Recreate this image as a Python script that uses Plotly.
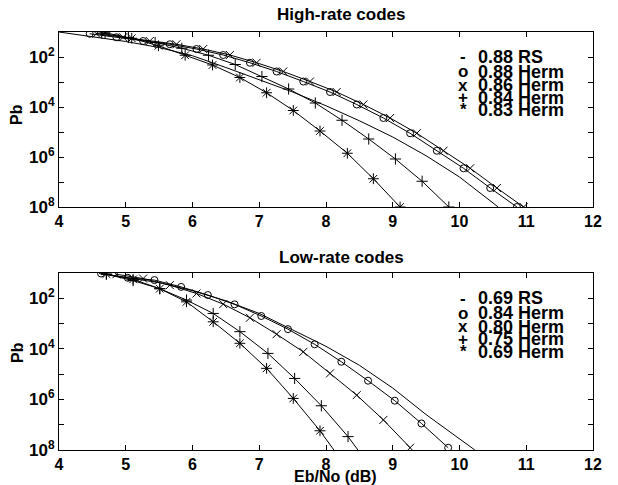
import numpy as np
import plotly.graph_objects as go

# ---------------- data (Pb given as log10 exponents) ----------------
# High-rate codes
hi_rs_x = [4.0, 4.5, 5.0, 5.5, 6.0, 6.5, 7.0, 7.5, 8.0, 8.5, 9.0, 9.5, 10.0, 10.58]
hi_rs_log = [-1.0, -1.2, -1.38, -1.62, -1.95, -2.42, -2.9, -3.4, -3.95, -4.55, -5.2, -5.95, -6.8, -8.0]

hi_o_x = [4.46, 4.86, 5.26, 5.66, 6.06, 6.46, 6.86, 7.26, 7.66, 8.06, 8.46, 8.86, 9.26, 9.66, 10.06, 10.46, 10.86]
hi_o_log = [-1.07, -1.21, -1.36, -1.49, -1.68, -1.92, -2.23, -2.58, -2.98, -3.40, -3.90, -4.44, -5.05, -5.75, -6.45, -7.24, -8.0]

hi_x_x = [4.56, 4.96, 5.36, 5.76, 6.16, 6.56, 6.96, 7.36, 7.76, 8.16, 8.56, 8.96, 9.36, 9.76, 10.16, 10.56, 10.96]
hi_x_log = [-1.07, -1.21, -1.36, -1.49, -1.68, -1.92, -2.23, -2.58, -2.98, -3.40, -3.90, -4.44, -5.05, -5.75, -6.45, -7.24, -8.0]

hi_p_x = [4.64, 5.04, 5.44, 5.84, 6.24, 6.64, 7.04, 7.44, 7.84, 8.24, 8.64, 9.04, 9.44, 9.84]
hi_p_log = [-1.05, -1.22, -1.42, -1.65, -1.93, -2.30, -2.78, -3.28, -3.84, -4.53, -5.28, -6.08, -6.97, -8.0]

hi_s_x = [4.69, 5.09, 5.49, 5.89, 6.30, 6.71, 7.11, 7.51, 7.91, 8.32, 8.71, 9.11]
hi_s_log = [-1.03, -1.25, -1.55, -1.93, -2.32, -2.82, -3.43, -4.14, -4.96, -5.85, -6.87, -8.0]

# Low-rate codes
lo_rs_x = [4.6, 5.0, 5.5, 6.0, 6.5, 7.0, 7.5, 8.0, 8.5, 9.0, 9.5, 10.23]
lo_rs_log = [-1.02, -1.17, -1.38, -1.7, -2.1, -2.6, -3.25, -3.9, -4.65, -5.55, -6.6, -8.0]

lo_o_x = [4.63, 5.03, 5.43, 5.83, 6.23, 6.63, 7.03, 7.43, 7.83, 8.23, 8.63, 9.03, 9.43, 9.83]
lo_o_log = [-1.02, -1.19, -1.28, -1.55, -1.87, -2.24, -2.70, -3.22, -3.82, -4.51, -5.26, -6.05, -6.95, -7.91]

lo_x_x = [4.86, 5.26, 5.66, 6.06, 6.46, 6.86, 7.26, 7.66, 8.06, 8.46, 8.86, 9.26]
lo_x_log = [-1.05, -1.22, -1.48, -1.81, -2.23, -2.77, -3.42, -4.12, -4.97, -5.83, -6.81, -7.91]

lo_p_x = [4.71, 5.11, 5.51, 5.91, 6.31, 6.71, 7.13, 7.53, 7.93, 8.33, 8.73]
lo_p_log = [-1.05, -1.30, -1.62, -2.07, -2.60, -3.32, -4.18, -5.17, -6.25, -7.47, -8.9]

lo_s_x = [4.71, 5.11, 5.51, 5.91, 6.31, 6.71, 7.11, 7.51, 7.91, 8.31]
lo_s_log = [-1.04, -1.25, -1.62, -2.14, -2.93, -3.78, -4.77, -5.96, -7.24, -8.7]

legend_symbols = ["-", "o", "x", "+", "*"]
hi_labels = ["0.88 RS", "0.88 Herm", "0.86 Herm", "0.84 Herm", "0.83 Herm"]
lo_labels = ["0.69 RS", "0.84 Herm", "0.80 Herm", "0.75 Herm", "0.69 Herm"]

titles = ["High-rate codes", "Low-rate codes"]
x_ticks = [4, 5, 6, 7, 8, 9, 10, 11, 12]
y_decades = [-8, -7, -6, -5, -4, -3, -2, -1]
y_ticktext = ["10<sup>8</sup>", "", "10<sup>6</sup>", "", "10<sup>4</sup>", "", "10<sup>2</sup>", ""]

# ---------------- figure ----------------
FONT = "Liberation Sans, Arial, Helvetica, sans-serif"
fig = go.Figure()


def add(xs, ylog, sym, xa, ya, size=7):
    fig.add_trace(go.Scatter(
        x=xs, y=np.power(10.0, np.array(ylog)),
        mode="lines" if sym is None else "lines+markers",
        line=dict(color="black", width=1),
        marker=dict(symbol=sym or "circle", size=size, color="black",
                    line=dict(color="black", width=1)),
        xaxis=xa, yaxis=ya, showlegend=False, cliponaxis=True))


add(hi_rs_x, hi_rs_log, None, "x", "y")
add(hi_o_x, hi_o_log, "circle-open", "x", "y")
add(hi_x_x, hi_x_log, "x-thin-open", "x", "y", 8)
add(hi_p_x, hi_p_log, "cross-thin-open", "x", "y", 8)
add(hi_s_x, hi_s_log, "asterisk-open", "x", "y", 9)

add(lo_rs_x, lo_rs_log, None, "x2", "y2")
add(lo_o_x, lo_o_log, "circle-open", "x2", "y2")
add(lo_x_x, lo_x_log, "x-thin-open", "x2", "y2", 8)
add(lo_p_x, lo_p_log, "cross-thin-open", "x2", "y2", 8)
add(lo_s_x, lo_s_log, "asterisk-open", "x2", "y2", 9)

ax_common = dict(showline=True, linecolor="black", linewidth=1, mirror="allticks",
                 ticks="inside", ticklen=5, tickcolor="black", showgrid=False,
                 zeroline=False, automargin=False)
xax = dict(ax_common, range=[4, 12], tickvals=x_ticks,
           tickfont=dict(family=FONT, size=16, color="black", weight="bold"))
yax = dict(ax_common, type="log", range=[-8, -1],
           tickvals=[10.0 ** d for d in y_decades], ticktext=y_ticktext,
           tickfont=dict(family=FONT, size=17, color="black", weight="bold"))

H, W = 485, 618
L, R, T, B = 59, 25, 32, 35
ph = H - T - B
pw = W - L - R


def py(p):
    return (H - B - p) / ph


def px(p):
    return (p - L) / pw


fig.update_layout(
    width=W, height=H,
    margin=dict(l=L, r=R, t=T, b=B, autoexpand=False),
    paper_bgcolor="white", plot_bgcolor="white",
    xaxis=dict(xax, domain=[0, 1], anchor="y"),
    yaxis=dict(yax, domain=[py(207), 1], anchor="x"),
    xaxis2=dict(xax, domain=[0, 1], anchor="y2"),
    yaxis2=dict(yax, domain=[0, py(273)], anchor="x2"),
    font=dict(family=FONT, color="black"),
)

ann = []
bold = dict(family=FONT, color="black", weight="bold")
ann.append(dict(text=titles[0], x=px(341), y=py(15), font=dict(bold, size=17)))
ann.append(dict(text=titles[1], x=px(341), y=py(257), font=dict(bold, size=17)))
ann.append(dict(text="Eb/No (dB)", x=px(335), y=py(476.5), font=dict(bold, size=16)))
ann.append(dict(text="Pb", x=px(17), y=py(115), textangle=-90, font=dict(bold, size=16)))
ann.append(dict(text="Pb", x=px(17), y=py(353), textangle=-90, font=dict(bold, size=16)))

hi_rows = [56.7, 71.7, 85, 97.7, 110]
lo_rows = [298.3, 313.3, 326.7, 339, 351.7]
for rows, labels in ((hi_rows, hi_labels), (lo_rows, lo_labels)):
    for r, s, lab in zip(rows, legend_symbols, labels):
        ann.append(dict(text=s, x=px(463), y=py(r), xanchor="center",
                        font=dict(bold, size=17)))
        ann.append(dict(text=lab, x=px(476), y=py(r), xanchor="left",
                        font=dict(bold, size=18)))

for a in ann:
    a.setdefault("xanchor", "center")
    a.setdefault("yanchor", "middle")
    a.update(xref="paper", yref="paper", showarrow=False)
fig.update_layout(annotations=ann)

fig.write_html("out.html", config={"displayModeBar": False},
               post_script="document.body.style.margin='0';document.body.style.overflow='hidden';")
